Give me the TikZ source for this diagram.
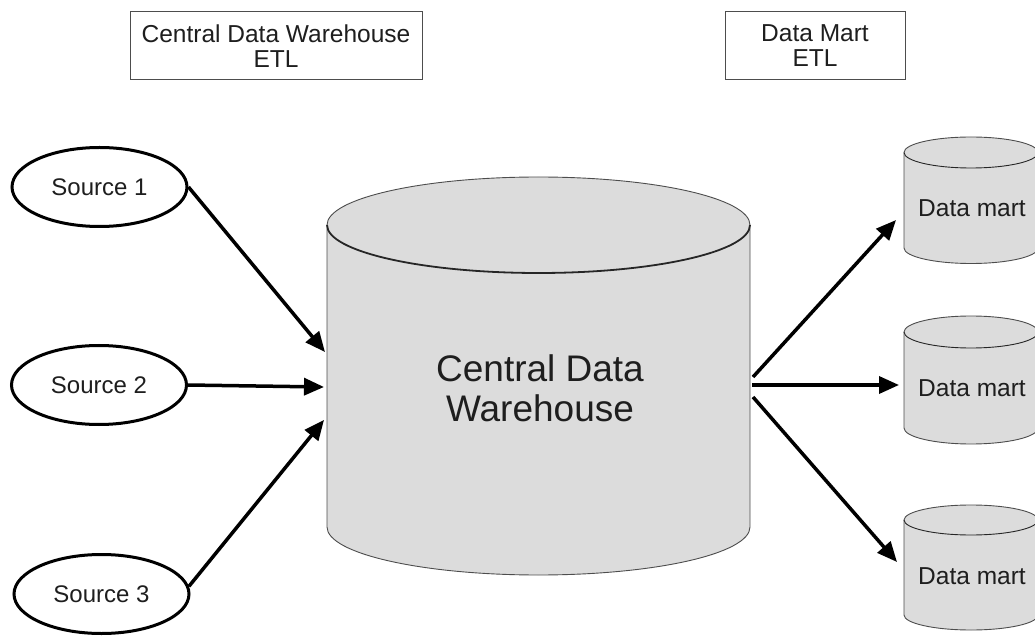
\documentclass[tikz,border=0pt]{standalone}
\usepackage{fontspec}
\setmainfont{Liberation Sans}
\usetikzlibrary{shapes.geometric,arrows.meta}
\definecolor{cylfill}{HTML}{DCDCDC}
\definecolor{cylline}{HTML}{4D4D4D}
\definecolor{inktext}{HTML}{1E1E1E}

% database cylinder: #1 centre x, #2 x radius, #3 top centre y, #4 bottom centre y,
% #5 y radius, #6 line width of the front rim of the lid
\newcommand{\dbcylinder}[6]{%
  \filldraw[fill=cylfill, draw=cylline, line width=0.9pt]
    ({#1-#2},#3) -- ({#1-#2},#4)
    arc[start angle=180, end angle=360, x radius=#2pt, y radius=#5pt]
    -- ({#1+#2},#3)
    arc[start angle=0, end angle=180, x radius=#2pt, y radius=#5pt] -- cycle;
  \draw[draw=black!85, line width=#6]
    ({#1-#2},#3) arc[start angle=180, end angle=360, x radius=#2pt, y radius=#5pt];
}

\begin{document}
\begin{tikzpicture}[x=1pt,y=1pt,
  source/.style={ellipse, draw=black, line width=3pt, minimum width=175pt,
    minimum height=79pt, inner sep=0pt, font=\fontsize{24}{26}\selectfont, text=inktext},
  etlbox/.style={draw=cylline, line width=1pt, inner sep=0pt, align=center,
    font=\fontsize{24.5}{25}\selectfont, text=inktext},
  flow/.style={line width=3.5pt, -{Triangle[length=20pt,width=17pt]}},
  martlabel/.style={font=\fontsize{24.5}{26}\selectfont, text=inktext},
]
\useasboundingbox (0,0) rectangle (1035,635);

% ETL headings
\node[etlbox, minimum width=292pt, minimum height=68pt] (etl1) at (276,589)
  {Central Data Warehouse\\ETL};
\node[etlbox, minimum width=180pt, minimum height=68pt] (etl2) at (815,589)
  {Data Mart\\ETL};

% sources
\node[source] (s1) at (99.5,448) {Source 1};
\node[source] (s2) at (99,250) {Source 2};
\node[source] (s3) at (101.5,41) {Source 3};

% central warehouse
\dbcylinder{538.5}{211.5}{410}{108}{48}{1.8pt}
\node[font=\fontsize{37}{40}\selectfont, align=center, text=inktext] (cdw) at (540,247)
  {Central Data\\Warehouse};

% data marts
\dbcylinder{971}{67}{482.5}{387}{15.5}{0.9pt}
\dbcylinder{971}{67}{303}{207}{16}{0.9pt}
\dbcylinder{971}{67}{115}{20}{15}{0.9pt}
\node[martlabel] (dm1) at (972,426.5) {Data mart};
\node[martlabel] (dm2) at (972,246.5) {Data mart};
\node[martlabel] (dm3) at (972,58.5) {Data mart};

% connection points on the cylinders
\coordinate (cdwIn1) at (325,283);
\coordinate (cdwIn2) at (324,248);
\coordinate (cdwIn3) at (324,215);
\coordinate (cdwOut1) at (753,258);
\coordinate (cdwOut2) at (752,250);
\coordinate (cdwOut3) at (753,238);
\coordinate (dm1In) at (896,415);
\coordinate (dm2In) at (899,250);
\coordinate (dm3In) at (897,73);

% loading flows
\draw[flow] (s1.east) -- (cdwIn1);
\draw[flow] (s2.east) -- (cdwIn2);
\draw[flow] (s3.5) -- (cdwIn3);
\draw[flow] (cdwOut1) -- (dm1In);
\draw[flow] (cdwOut2) -- (dm2In);
\draw[flow] (cdwOut3) -- (dm3In);
\end{tikzpicture}
\end{document}
